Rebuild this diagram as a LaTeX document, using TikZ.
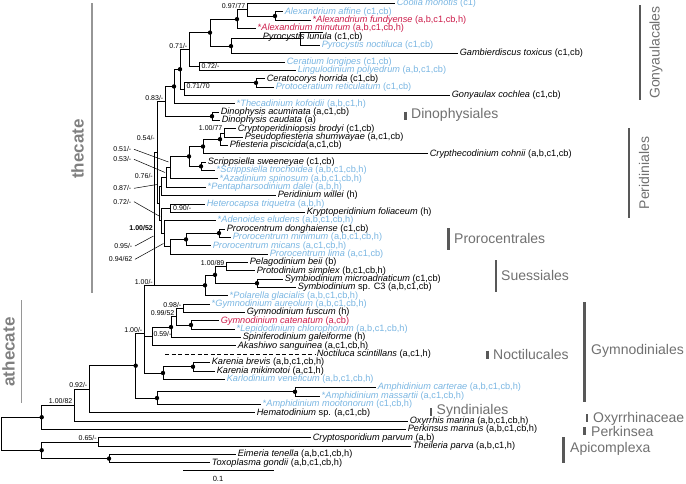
\documentclass[tikz,border=0pt]{standalone}
\usepackage{fontspec}
\setmainfont{Liberation Sans}

\definecolor{tblue}{RGB}{122,182,226}
\definecolor{tred}{RGB}{204,28,74}
\definecolor{cgray}{RGB}{112,112,112}
\definecolor{bgray}{RGB}{88,88,88}
\definecolor{lgray}{RGB}{150,150,150}

\begin{document}
\begin{tikzpicture}[x=1pt, y=-1pt,
  branch/.style={line width=0.75pt},
  leaf/.style={anchor=west, inner sep=1.6pt, font=\fontsize{9.2}{10}\selectfont},
  bleaf/.style={leaf, text=tblue},
  rleaf/.style={leaf, text=tred},
  supp/.style={anchor=south east, inner sep=0.5pt, font=\fontsize{7}{8}\selectfont},
  insupp/.style={anchor=west, inner sep=0.3pt, font=\fontsize{7}{8}\selectfont},
  farsupp/.style={anchor=east, inner sep=0.5pt, font=\fontsize{7}{8}\selectfont},
  leader/.style={line width=0.5pt},
  bigdot/.style={circle, fill=black, inner sep=0pt, minimum size=4.4pt},
  cladetxt/.style={anchor=west, inner sep=0pt, text=cgray, font=\fontsize{14}{16}\selectfont},
  cladebar/.style={draw=bgray, line width=2.6pt},
  grouptxt/.style={rotate=90, inner sep=0pt, text=lgray!85!black, font=\fontsize{17}{19}\selectfont\bfseries},
  groupline/.style={draw=lgray, line width=1.2pt},
]
\useasboundingbox (0,0) rectangle (686,483);

% internal nodes: Gonyaulacales and Dinophysiales
\coordinate (Alex2) at (275,16.03);
\coordinate (A0) at (247,9.76);
\coordinate (D1) at (237,19.15);
\coordinate (PyroPair) at (300,38.6);
\coordinate (lunTip) at (323,32);
\coordinate (N231) at (231,46.1);
\coordinate (G2) at (210,32.6);
\coordinate (CerLin) at (199,66.13);
\coordinate (G1) at (189,49.3);
\coordinate (CerPro2) at (256,82.83);
\coordinate (CerPro) at (184,89.1);
\coordinate (G0a) at (180,69.2);
\coordinate (G0) at (174,86.45);
\coordinate (Dino) at (212,116.23);
\coordinate (G00) at (165,101.34);
% Peridiniales and Prorocentrales
\coordinate (Pf2) at (224,132.93);
\coordinate (Pf1) at (220,139.19);
\coordinate (Pf0) at (203,146.5);
\coordinate (Sc1) at (201,166.33);
\coordinate (P1) at (189,156.41);
\coordinate (P2) at (170.7,167.63);
\coordinate (P3) at (166,177.41);
\coordinate (P4) at (161.5,186.48);
\coordinate (HK) at (170.7,208.08);
\coordinate (Pr1) at (219,233.13);
\coordinate (Pr0) at (186,239.39);
\coordinate (Pr00) at (170,246.7);
\coordinate (Ad) at (164,233.65);
\coordinate (B3) at (161,220.86);
\coordinate (P5) at (159,203.67);
\coordinate (T2) at (157,152.5);
% Suessiales
\coordinate (Su3) at (226,266.53);
\coordinate (Sym) at (257,283.23);
\coordinate (Su2) at (215,274.88);
\coordinate (Su1) at (205,285.3);
\coordinate (N154) at (154.5,285.3);
% Gymnodiniales and the rest
\coordinate (R) at (183,308.28);
\coordinate (S) at (191,324.98);
\coordinate (Q) at (176,316.63);
\coordinate (W) at (171,327.07);
\coordinate (X) at (152,336.46);
\coordinate (nocS) at (165,354.2);
\coordinate (Kar2) at (193,366.73);
\coordinate (Kar1) at (163,372.99);
\coordinate (N144) at (144,333.3);
\coordinate (Am1) at (295,391.78);
\coordinate (AmRoot) at (157,398.04);
\coordinate (N135) at (135.7,365.67);
\coordinate (N89) at (89,389.16);
\coordinate (N74) at (74,405.08);
\coordinate (N42a) at (41.7,417.2);
\coordinate (N98) at (98.3,441.88);
\coordinate (N109) at (109,458.58);
\coordinate (N42b) at (41.7,450.23);
\coordinate (Root) at (1.5,433.7);

% leaves
\node[bleaf] (coolia) at (395,3.5) {\textit{Coolia monotis} (c1)};
\node[bleaf] (aaff) at (283,11.85) {\textit{Alexandrium affine} (c1,cb)};
\node[rleaf] (afun) at (311,20.2) {*\textit{Alexandrium fundyense} (a,b,c1,cb,h)};
\node[rleaf] (amin) at (256,28.55) {*\textit{Alexandrium minutum} (a,b,c1,cb,h)};
\node[leaf] (plun) at (261,37.2) {\textit{Pyrocystis lunula} (c1,cb)};
\node[bleaf] (pnoc) at (320,45.25) {\textit{Pyrocystis noctiluca} (c1,cb)};
\node[leaf] (gtox) at (458,53.6) {\textit{Gambierdiscus toxicus} (c1,cb)};
\node[bleaf] (clon) at (285,61.95) {\textit{Ceratium longipes} (c1,cb)};
\node[bleaf] (lpol) at (296,70.3) {\textit{Lingulodinium polyedrum} (a,b,c1,cb)};
\node[leaf] (chor) at (265,78.65) {\textit{Ceratocorys horrida} (c1,cb)};
\node[bleaf] (pret) at (274,87) {\textit{Protoceratium reticulatum} (c1,cb)};
\node[leaf] (gcoc) at (450,95.35) {\textit{Gonyaulax cochlea} (c1,cb)};
\node[bleaf] (tkof) at (235,103.7) {*\textit{Thecadinium kofoidii} (a,b,c1,h)};
\node[leaf] (dacu) at (219,112.05) {\textit{Dinophysis acuminata} (a,c1,cb)};
\node[leaf] (dcau) at (220,120.4) {\textit{Dinophysis caudata} (a)};
\node[leaf] (cbro) at (236,128.75) {\textit{Cryptoperidiniopsis brodyi} (c1,cb)};
\node[leaf] (pshu) at (243,137.1) {\textit{Pseudopfiesteria shumwayae} (a,c1,cb)};
\node[leaf] (ppis) at (228,145.45) {\textit{Pfiesteria piscicida}(a,c1,cb)};
\node[leaf] (ccoh) at (428,153.8) {\textit{Crypthecodinium cohnii} (a,b,c1,cb)};
\node[leaf] (sswe) at (206,162.15) {\textit{Scrippsiella sweeneyae} (c1,cb)};
\node[bleaf] (stro) at (215,170.5) {*\textit{Scrippsiella trochoidea} (a,b,c1,cb,h)};
\node[bleaf] (aspi) at (218,178.85) {*\textit{Azadinium spinosum} (a,b,c1,cb,h)};
\node[bleaf] (pdal) at (206,187.2) {*\textit{Pentapharsodinium dalei} (a,b,h)};
\node[leaf] (pwil) at (276,195.55) {\textit{Peridinium willei} (h)};
\node[bleaf] (htri) at (205,203.9) {\textit{Heterocapsa triquetra} (a,b,h)};
\node[leaf] (kfol) at (305,212.25) {\textit{Kryptoperidinium foliaceum} (h)};
\node[bleaf] (aelu) at (216,220.6) {*\textit{Adenoides eludens} (a,b,c1,cb,h)};
\node[leaf] (pdon) at (225,228.95) {\textit{Prorocentrum donghaiense} (c1,cb)};
\node[bleaf] (pmin) at (231,237.3) {\textit{Prorocentrum minimum} (a,b,c1,cb,h)};
\node[bleaf] (pmic) at (211,245.65) {\textit{Prorocentrum micans} (a,c1,cb,h)};
\node[bleaf] (plim) at (268,254) {\textit{Prorocentrum lima} (a,c1,cb)};
\node[leaf] (pbei) at (248,262.35) {\textit{Pelagodinium beii} (b)};
\node[leaf] (psim) at (255,270.7) {\textit{Protodinium simplex} (b,c1,cb,h)};
\node[leaf] (smic) at (283,279.05) {\textit{Symbiodinium microadriaticum} (c1,cb)};
\node[leaf] (sc3) at (296,287.4) {\textit{Symbiodinium} sp. C3 (a,b,c1,cb)};
\node[bleaf] (pgla) at (228,295.75) {*\textit{Polarella glacialis} (a,b,c1,cb,h)};
\node[bleaf] (gaur) at (210,304.1) {*\textit{Gymnodinium aureolum} (a,b,c1,cb,h)};
\node[leaf] (gfus) at (245,312.45) {\textit{Gymnodinium fuscum} (h)};
\node[rleaf] (gcat) at (219,320.8) {\textit{Gymnodinium catenatum} (a,cb)};
\node[bleaf] (lchl) at (235,329.15) {*\textit{Lepidodinium chlorophorum} (a,b,c1,cb,h)};
\node[leaf] (sgal) at (241,337.5) {\textit{Spiniferodinium galeiforme} (h)};
\node[leaf] (asan) at (236,345.85) {\textit{Akashiwo sanguinea} (a,c1,cb,h)};
\node[leaf] (nsci) at (315,354.2) {\textit{Noctiluca scintillans} (a,c1,h)};
\node[leaf] (kbre) at (210,362.55) {\textit{Karenia brevis} (a,b,c1,cb,h)};
\node[leaf] (kmik) at (215,370.9) {\textit{Karenia mikimotoi} (a,c1,h)};
\node[bleaf] (kven) at (225,379.25) {\textit{Karlodinium veneficum} (a,b,c1,cb,h)};
\node[bleaf] (acar) at (376,387.6) {\textit{Amphidinium carterae} (a,b,c1,cb,h)};
\node[bleaf] (amas) at (320,395.95) {*\textit{Amphidinium massartii} (a,c1,cb,h)};
\node[bleaf] (amoo) at (261,404.3) {*\textit{Amphidinium mootonorum} (c1,cb,h)};
\node[leaf] (hsp) at (255,412.65) {\textit{Hematodinium} sp. (a,c1,cb)};
\node[leaf] (omar) at (408,421) {\textit{Oxyrrhis marina} (a,b,c1,cb,h)};
\node[leaf] (pmar) at (406,429.35) {\textit{Perkinsus marinus} (a,b,c1,cb,h)};
\node[leaf] (cpar) at (311,437.7) {\textit{Cryptosporidium parvum} (a,b)};
\node[leaf] (tpar) at (411,446.05) {\textit{Theileria parva} (a,b,c1,h)};
\node[leaf] (eten) at (236,454.4) {\textit{Eimeria tenella} (a,b,c1,cb,h)};
\node[leaf] (tgon) at (210,462.75) {\textit{Toxoplasma gondii} (a,b,c1,cb,h)};

% branches
\draw[branch]
  (A0) |- (coolia) (A0) |- (Alex2)
  (Alex2) |- (aaff) (Alex2) |- (afun)
  (D1) |- (A0) (D1) |- (amin)
  (PyroPair) |- (lunTip) (PyroPair) |- (pnoc)
  (N231) |- (PyroPair) (N231) |- (gtox)
  (G2) |- (D1) (G2) |- (N231)
  (CerLin) |- (clon) (CerLin) |- (lpol)
  (G1) |- (G2) (G1) |- (CerLin)
  (CerPro2) |- (chor) (CerPro2) |- (pret)
  (CerPro) |- (CerPro2) (CerPro) |- (gcoc)
  (G0a) |- (G1) (G0a) |- (CerPro)
  (G0) |- (G0a) (G0) |- (tkof)
  (Dino) |- (dacu) (Dino) |- (dcau)
  (G00) |- (G0) (G00) |- (Dino);
\draw[branch]
  (Pf2) |- (cbro) (Pf2) |- (pshu)
  (Pf1) |- (Pf2) (Pf1) |- (ppis)
  (Pf0) |- (Pf1) (Pf0) |- (ccoh)
  (Sc1) |- (sswe) (Sc1) |- (stro)
  (P1) |- (Pf0) (P1) |- (Sc1)
  (P2) |- (P1) (P2) |- (aspi)
  (P3) |- (P2) (P3) |- (pdal)
  (P4) |- (P3) (P4) |- (pwil)
  (HK) |- (htri) (HK) |- (kfol)
  (Pr1) |- (pdon) (Pr1) |- (pmin)
  (Pr0) |- (Pr1) (Pr0) |- (pmic)
  (Pr00) |- (Pr0) (Pr00) |- (plim)
  (Ad) |- (aelu) (Ad) |- (Pr00)
  (B3) |- (HK) (B3) |- (Ad)
  (P5) |- (P4) (P5) |- (B3)
  (T2) |- (G00) (T2) |- (P5);
\draw[branch]
  (Su3) |- (pbei) (Su3) |- (psim)
  (Sym) |- (smic) (Sym) |- (sc3)
  (Su2) |- (Su3) (Su2) |- (Sym)
  (Su1) |- (Su2) (Su1) |- (pgla)
  (N154) |- (T2) (N154) |- (Su1);
\draw[branch]
  (R) |- (gaur) (R) |- (gfus)
  (S) |- (gcat) (S) |- (lchl)
  (Q) |- (R) (Q) |- (S)
  (W) |- (Q) (W) |- (sgal)
  (X) |- (W) (X) |- (asan)
  (Kar2) |- (kbre) (Kar2) |- (kmik)
  (Kar1) |- (Kar2) (Kar1) |- (kven)
  (N144) |- (N154) (N144) |- (X) (N144) |- (Kar1)
  (Am1) |- (acar) (Am1) |- (amas)
  (AmRoot) |- (Am1) (AmRoot) |- (amoo)
  (N135) |- (N144) (N135) |- (AmRoot)
  (N89) |- (N135) (N89) |- (hsp)
  (N74) |- (N89) (N74) |- (omar)
  (N42a) |- (N74) (N42a) |- (pmar);
\draw[branch]
  (N98) |- (cpar) (N98) |- (tpar)
  (N109) |- (eten) (N109) |- (tgon)
  (N42b) |- (N98) (N42b) |- (N109)
  (Root) |- (N42a) (Root) |- (N42b);
\draw[branch, dash pattern=on 4pt off 2.5pt] (nocS) -- (nsci);

% fully supported nodes
\foreach \n in {Alex2,D1,N231,G2,CerPro2,G0a,G0,Dino,Pf1,Pf0,Sc1,P1,Pr1,Pr0,
  Sym,Su2,Su1,S,W,Kar2,Kar1,Am1,AmRoot,N135,N42a,N42b,N109}
  \node[bigdot] at (\n) {};

% support values
\node[supp] at ([xshift=-1pt,yshift=0.5pt]A0) {0.97/77};
\node[supp] at ([xshift=-1pt,yshift=0.5pt]G1) {0.71/-};
\node[supp] at ([xshift=-1pt,yshift=0.5pt]G00) {0.83/-};
\node[supp] at ([xshift=-1pt,yshift=2pt]Pf2) {1.00/77};
\node[supp] at ([xshift=-1pt,yshift=0.5pt]Su3) {1.00/89};
\node[supp] at ([xshift=-1pt,yshift=0.5pt]R) {0.98/-};
\node[supp] at ([xshift=-1pt,yshift=0.5pt]Q) {0.99/52};
\node[supp] at ([xshift=-1pt,yshift=0.5pt]N154) {1.00/-};
\node[supp] at ([xshift=-1pt,yshift=0.5pt]N144) {1.00/-};
\node[supp] at ([xshift=-1pt,yshift=0.5pt]N89) {0.92/-};
\node[supp] at ([xshift=-1pt,yshift=0.5pt]N74) {1.00/82};
\node[supp] at ([xshift=-1pt,yshift=0.5pt]N98) {0.65/-};
\node[insupp] at ([xshift=2pt]CerLin) {0.72/-};
\node[insupp] at ([xshift=2pt,yshift=3pt]CerPro) {0.71/70};
\node[insupp] at ([xshift=2pt,yshift=0.5pt]HK) {0.90/-};
\node[insupp] at ([xshift=1pt,yshift=2pt]X) {0.59/-};
\node[farsupp] at (155.5,137.7) {0.54/-};
\node[farsupp] at (153.5,175.7) {0.76/-};
\node[farsupp] at (153.5,228) {\bfseries 1.00/52};

% support values with leaders
\coordinate (c051) at (168.5,162);
\coordinate (c053) at (165,172.5);
\coordinate (c087) at (157,184.5);
\coordinate (c072) at (160,216.5);
\coordinate (c095) at (153.5,236);
\coordinate (c094) at (163.5,243.5);
\node[farsupp] (l051) at (132,149.3) {0.51/-};
\node[farsupp] (l053) at (132,159.3) {0.53/-};
\node[farsupp] (l087) at (132,188.3) {0.87/-};
\node[farsupp] (l072) at (132,201.7) {0.72/-};
\node[farsupp] (l095) at (133,246) {0.95/-};
\node[farsupp] (l094) at (133,259.3) {0.94/62};
\draw[leader] ([xshift=2pt]l051.east) -- (c051);
\draw[leader] ([xshift=2pt]l053.east) -- (c053);
\draw[leader] ([xshift=2pt]l087.east) -- (c087);
\draw[leader] ([xshift=2pt]l072.east) -- (c072);
\draw[leader] ([xshift=2pt]l095.east) -- (c095);
\draw[leader] ([xshift=2pt]l094.east) -- (c094);

% scale bar
\coordinate (sbL) at (183,470);
\coordinate (sbR) at (274,470);
\draw[branch] (sbL) -- (sbR);
\node[font=\fontsize{7.5}{9}\selectfont, inner sep=0pt] (sblab) at (218,479) {0.1};

% clade bars and names
\draw[cladebar] (640,5) -- (640,100);
\node[cladetxt, anchor=center, rotate=90] (gony) at (656,52.5) {Gonyaulacales};
\draw[cladebar] (405.5,111.5) -- (405.5,119.5);
\node[cladetxt] (dino) at (411,115) {Dinophysiales};
\draw[cladebar] (629,128) -- (629,218);
\node[cladetxt, anchor=center, rotate=90] (peri) at (644,173) {Peridiniales};
\draw[cladebar] (448.5,228) -- (448.5,250);
\node[cladetxt] (proro) at (454,238.5) {Prorocentrales};
\draw[cladebar] (496,260) -- (496,292);
\node[cladetxt] (suess) at (501,275) {Suessiales};
\draw[cladebar] (584.5,302) -- (584.5,402);
\node[cladetxt] (gymno) at (591,351) {Gymnodiniales};
\draw[cladebar] (487.5,350.5) -- (487.5,358.5);
\node[cladetxt] (nocti) at (493,354) {Noctilucales};
\draw[cladebar] (431,408) -- (431,415.5);
\node[cladetxt] (syndi) at (436.5,411) {Syndiniales};
\draw[cladebar] (587,414) -- (587,422);
\node[cladetxt] (oxyr) at (593,418.5) {Oxyrrhinaceae};
\draw[cladebar] (584.5,427) -- (584.5,435);
\node[cladetxt] (perk) at (591,431) {Perkinsea};
\draw[cladebar] (563.5,437) -- (563.5,463);
\node[cladetxt] (apico) at (570,449) {Apicomplexa};

% thecate / athecate
\draw[groupline] (92,3) -- (92,293);
\node[grouptxt] (thec) at (77.5,149) {thecate};
\draw[groupline] (21.7,300) -- (21.7,403);
\node[grouptxt] (athec) at (8.5,352) {athecate};
\end{tikzpicture}
\end{document}
